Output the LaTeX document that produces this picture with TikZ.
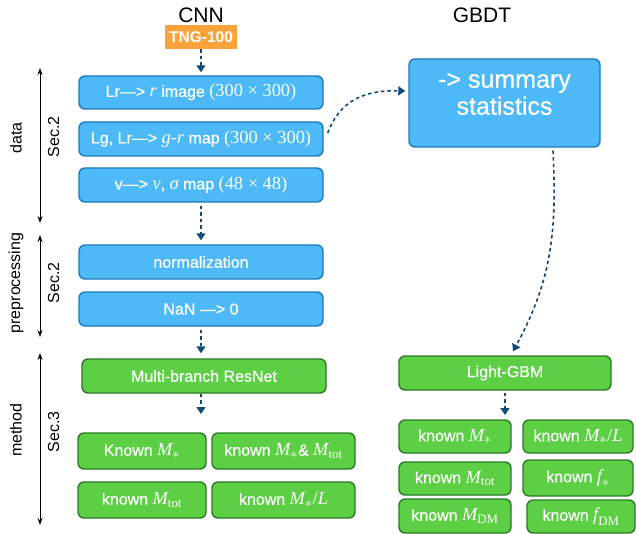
\documentclass[tikz,border=0pt]{standalone}
\usepackage{amsmath}
\usepackage[no-math]{fontspec}
\setmainfont{Liberation Sans}
\newfontfamily\boxfont[FakeBold=0.5]{Liberation Sans}
\newfontfamily\tms[Scale=1.15]{Liberation Serif}
\newcommand\vi[1]{\text{\tms\itshape #1}}
\newcommand\sbs[1]{_{\text{\tms #1}}}
\newcommand\st{_{\text{\fontsize{14}{14}\selectfont$\ast$}}}
\usetikzlibrary{arrows.meta,calc}
\definecolor{bluefill}{HTML}{4DBAF7}
\definecolor{bluedraw}{HTML}{1E78BC}
\definecolor{greenfill}{HTML}{5CCF45}
\definecolor{greendraw}{HTML}{2B7A27}
\definecolor{orangefill}{HTML}{F9A33A}
\definecolor{arrowc}{HTML}{124B78}
\tikzset{
  boxbase/.style={rounded corners=6pt, line width=1.4pt, text=white,
    font=\fontsize{16}{19}\boxfont\selectfont, inner sep=0pt, minimum width=244pt, minimum height=34pt},
  bluebox/.style={boxbase, draw=bluedraw, fill=bluefill},
  greenbox/.style={boxbase, draw=greendraw, fill=greenfill},
  tngbox/.style={fill=orangefill, text=white, font=\fontsize{15.5}{18}\bfseries\selectfont,
    inner sep=0pt, minimum width=72pt, minimum height=24pt},
  flow/.style={draw=arrowc, line width=1.6pt, dash pattern=on 3.5pt off 3pt,
    -{Triangle[width=9pt,length=7pt]}},
  bracket/.style={line width=0.9pt, {Stealth[length=7pt,width=5pt]}-{Stealth[length=7pt,width=5pt]}},
  title/.style={font=\fontsize{21}{24}\selectfont},
  side/.style={font=\fontsize{16}{19}\selectfont, rotate=90},
}
\begin{document}
\begin{tikzpicture}[x=1pt,y=-1pt]
\useasboundingbox (0,0) rectangle (636,534);
% titles
\node[title] (cnn) at (201,15) {CNN};
\node[title] (gbdt) at (482,15) {GBDT};
\node[tngbox] (tng) at (201,37) {TNG-100};
% left column
\node[bluebox, minimum height=33pt] (b1) at (201,92.5) {Lr—> {\tms\itshape r} image {\tms(300 × 300)}};
\node[bluebox] (b2) at (201,139) {Lg, Lr—> {\tms\itshape g-r} map {\tms(300 × 300)}};
\node[bluebox] (b3) at (201,185) {v—> {\tms\itshape v}, {\tms\itshape σ} map {\tms(48 × 48)}};
\node[bluebox] (norm) at (201,262) {normalization};
\node[bluebox] (nan) at (201,309) {NaN —> 0};
\node[greenbox] (resnet) at (204,376) {Multi-branch ResNet};
\node[greenbox, minimum width=128pt, minimum height=36pt] (k1) at (142,451) {Known $\vi{M}\st$};
\node[greenbox, minimum width=143pt, minimum height=36pt] (k2) at (283.5,451) {known $\vi{M}\st$\& $\vi{M}\sbs{tot}$};
\node[greenbox, minimum width=128pt, minimum height=36pt] (k3) at (142,500) {known $\vi{M}\sbs{tot}$};
\node[greenbox, minimum width=143pt, minimum height=36pt] (k4) at (283.5,500) {known $\vi{M}\st\text{\tms/}\vi{L}$};
% right column
\node[bluebox, minimum width=191pt, minimum height=88pt] (sum) at (504.5,103) {};
\node[text=white, align=center, font=\fontsize{25}{27}\boxfont\selectfont] (sumtext) at (504.5,94) {-> summary\\statistics};
\node[greenbox, minimum width=212pt] (lgbm) at (505,373) {Light-GBM};
\node[greenbox, minimum width=112pt, minimum height=33pt] (r1) at (455,436.5) {known $\vi{M}\st$};
\node[greenbox, minimum width=110pt, minimum height=33pt] (r2) at (578,436.5) {known $\vi{M}\st\text{\tms/}\vi{L}$};
\node[greenbox, minimum width=112pt, minimum height=33pt] (r3) at (455,478.5) {known $\vi{M}\sbs{tot}$};
\node[greenbox, minimum width=110pt, minimum height=36pt] (r4) at (578,478) {known $\vi{f}\st$};
\node[greenbox, minimum width=112pt, minimum height=34pt] (r5) at (455,516) {known $\vi{M}\sbs{DM}$};
\node[greenbox, minimum width=108pt, minimum height=33pt] (r6) at (581,516.5) {known $\vi{f}\sbs{DM}$};
% free ends
\coordinate (kin) at (201,414);
\coordinate (rin) at (505,415);
% flow arrows
\draw[flow] (tng.south) -- ($(b1.north)+(0,-3)$);
\draw[flow] ($(b3.south)+(0,3)$) -- ($(norm.north)+(0,-4)$);
\draw[flow] ($(nan.south)+(0,3)$) -- ($(nan.south |- resnet.north)+(0,-5)$);
\draw[flow] ($(resnet.south)+(-3,0)$) -- (kin);
\draw[flow] ($(lgbm.south)+(0,2)$) -- (rin);
\draw[flow] ($(b2.east)+(4,-6)$) .. controls (340,100) and (365,90) .. ($(sum.west)+(-3,-12)$);
\draw[flow] ($(sum.south)+(48.5,3)$) .. controls (557,230) and (552,280) .. ($(lgbm.north)+(8,-4)$);
% brackets
\draw[bracket] (40,68) -- (40,223);
\draw[bracket] (40,235) -- (40,337);
\draw[bracket] (40,353) -- (40,525);
\node[side] (ldata) at (16,138) {data};
\node[side] (lsec2a) at (53.5,137) {Sec.2};
\node[side] (lpre) at (16,283) {preprocessing};
\node[side] (lsec2b) at (53.5,283) {Sec.2};
\node[side] (lmeth) at (16,430) {method};
\node[side] (lsec3) at (53.5,432) {Sec.3};
\end{tikzpicture}
\end{document}
